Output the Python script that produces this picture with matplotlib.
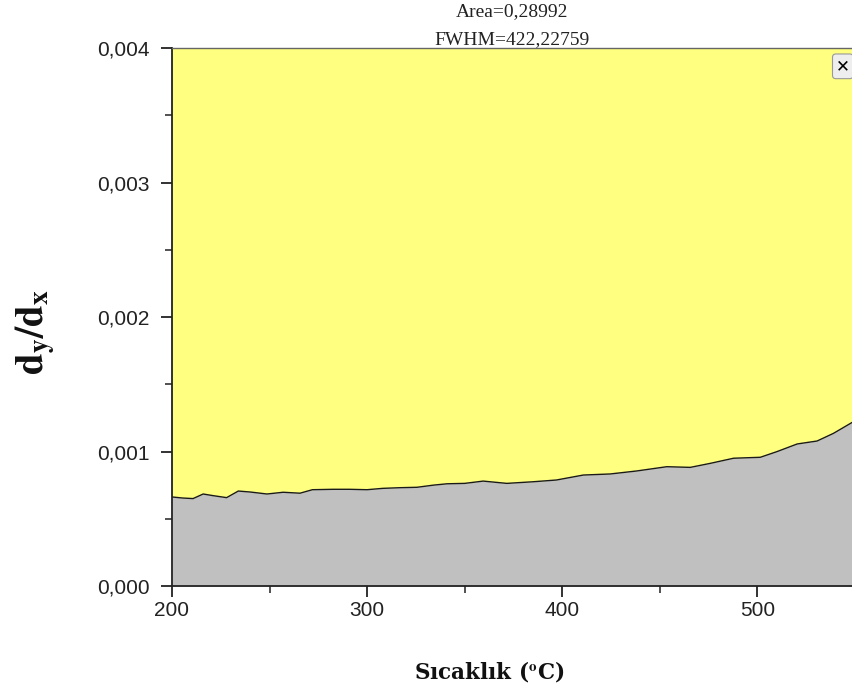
import matplotlib
matplotlib.use("Agg")
import matplotlib.pyplot as plt
from matplotlib.ticker import MultipleLocator, FuncFormatter

plt.rcParams["mathtext.fontset"] = "stix"

temperature = [200, 205.6, 210.8, 216, 221, 228, 234, 240, 248.7, 257, 265.6, 272,
               282.6, 291, 300, 308, 317, 325.6, 334, 341, 350, 359.5, 371.6, 385,
               397, 410.8, 424.6, 438, 453.6, 465.6, 475.9, 487.8, 501.5, 510,
               520.4, 530.6, 539, 549]
dydx = [0.000662, 0.000654, 0.00065, 0.000684, 0.000672, 0.000657, 0.000706, 0.000699,
        0.000684, 0.000697, 0.00069, 0.000716, 0.000719, 0.000719, 0.000716, 0.000726,
        0.000731, 0.000734, 0.00075, 0.00076, 0.000763, 0.00078, 0.000763, 0.000775,
        0.000788, 0.000825, 0.000833, 0.000855, 0.000887, 0.000882, 0.000912, 0.00095,
        0.000957, 0.000999, 0.001056, 0.001078, 0.001135, 0.00122]
title_lines = ["Area=0,28992", "FWHM=422,22759"]
xlabel = r"Sıcaklık ($^{\mathbf{o}}$C)"

fig = plt.figure(figsize=(8.53, 6.93), dpi=100)
ax = fig.add_axes([0.2016, 0.1544, 0.7984, 0.7763])

ymax = 0.004
ax.fill_between(temperature, dydx, ymax, color="#FFFF80", linewidth=0)
ax.fill_between(temperature, 0, dydx, color="#C0C0C0", linewidth=0)
ax.plot(temperature, dydx, color="#1a1a1a", linewidth=1.0)

ax.set_xlim(200, 549)
ax.set_ylim(0, ymax)
ax.xaxis.set_major_locator(MultipleLocator(100))
ax.xaxis.set_minor_locator(MultipleLocator(50))
ax.yaxis.set_major_locator(MultipleLocator(0.001))
ax.yaxis.set_minor_locator(MultipleLocator(0.0005))
ax.yaxis.set_major_formatter(FuncFormatter(lambda v, p: f"{v:.3f}".replace(".", ",")))
ax.tick_params(which="major", direction="out", length=8, width=1.3, labelsize=15,
               colors="#222222")
ax.tick_params(axis="y", which="major", pad=8)
ax.tick_params(axis="x", which="major", pad=3)
ax.tick_params(which="minor", direction="out", length=5, width=1.1, colors="#222222")
for lab in ax.get_xticklabels() + ax.get_yticklabels():
    lab.set_family("Liberation Sans")

for s in ["left", "bottom"]:
    ax.spines[s].set_linewidth(1.3)
    ax.spines[s].set_color("#222222")
ax.spines["top"].set_linewidth(1.0)
ax.spines["top"].set_color("#666666")
ax.spines["right"].set_visible(False)

fig.text(512 / 853, 1 - 12 / 693, title_lines[0], ha="center", va="center",
         fontsize=14, family="Liberation Serif", color="#222222")
fig.text(512 / 853, 1 - 40 / 693, title_lines[1], ha="center", va="center",
         fontsize=14, family="Liberation Serif", color="#222222")
fig.text(489 / 853, 1 - 672 / 693, xlabel, ha="center", va="center",
         fontsize=15.5, family="DejaVu Serif", fontweight="bold", color="#111111")
fig.text(36 / 853, 1 - 332 / 693, r"$\mathbf{d_y/d_x}$", ha="center", va="center",
         rotation=90, fontsize=28, color="#111111")

# close button glyph in top-right corner
ax.text(0.985, 0.966, "✕", transform=ax.transAxes, ha="center", va="center",
        fontsize=12, fontweight="bold", color="black", family="DejaVu Sans",
        bbox=dict(boxstyle="round,pad=0.2", fc="#EEEEEE", ec="#999999", lw=0.8))

fig.savefig("out.png", dpi=100)
